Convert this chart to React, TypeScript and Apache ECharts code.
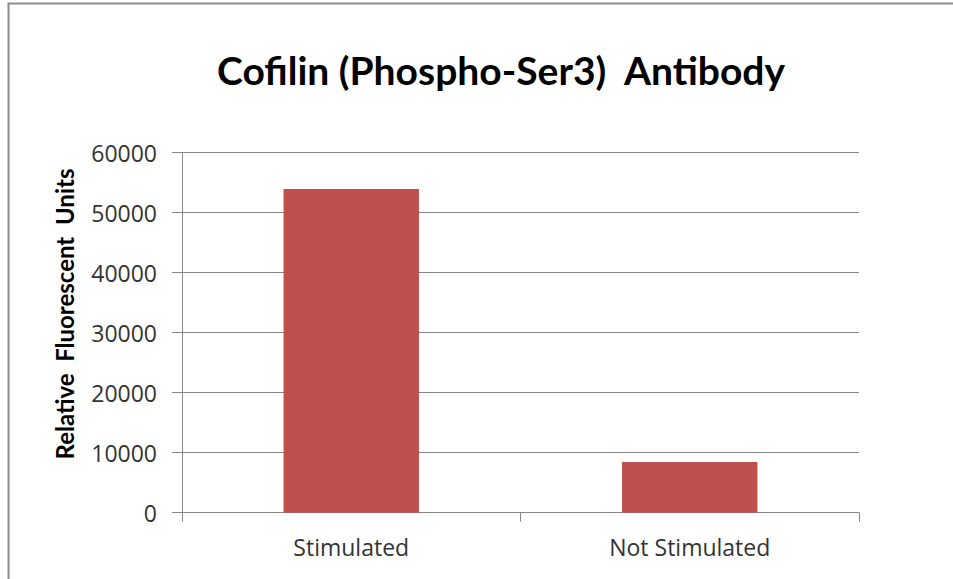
import React, { useEffect, useRef } from "react";
import * as echarts from "echarts";

const categories = ["Stimulated", "Not Stimulated"];
const values = [53950, 8450];
const titleText = "Cofilin (Phospho-Ser3)  Antibody";
const yAxisTitle = "Relative  Fluorescent  Units";

export default function App() {
  const ref = useRef<HTMLDivElement>(null);
  useEffect(() => {
    if (!ref.current) return;
    const chart = echarts.init(ref.current, null, { renderer: "svg" });
    const titleFont = "Lato, 'Open Sans', sans-serif";
    const labelFont = "'Open Sans', Lato, sans-serif";
    chart.setOption({
      animation: false,
      backgroundColor: "#ffffff",
      title: {
        text: titleText,
        left: 212,
        top: 45,
        textStyle: { fontFamily: titleFont, fontWeight: "bold", fontSize: 39, color: "#000000" },
      },
      graphic: [
        {
          type: "rect",
          shape: { x: 8.5, y: 3.5, width: 1000, height: 1000 },
          style: { fill: "none", stroke: "#8c8c8c", lineWidth: 2 },
          silent: true,
          z: -1,
        },
        {
          type: "text",
          x: 64,
          y: 314,
          rotation: Math.PI / 2,
          style: {
            text: yAxisTitle,
            fontFamily: titleFont,
            fontWeight: "bold",
            fontSize: 24,
            fill: "#000000",
            align: "center",
            verticalAlign: "middle",
          },
        },
      ],
      grid: { left: 182, right: 94, top: 152.7, bottom: 66.3, containLabel: false },
      xAxis: {
        type: "category",
        data: categories,
        axisLine: { lineStyle: { color: "#868686", width: 1 } },
        axisTick: { show: true, length: 9, lineStyle: { color: "#868686" } },
        axisLabel: { fontFamily: labelFont, fontSize: 23, color: "#333333", margin: 23 },
      },
      yAxis: {
        type: "value",
        min: 0,
        max: 60000,
        interval: 10000,
        axisLine: { show: true, lineStyle: { color: "#868686", width: 1 } },
        axisTick: { show: true, length: 10, lineStyle: { color: "#868686" } },
        axisLabel: {
          fontFamily: labelFont,
          fontSize: 23,
          color: "#333333",
          margin: 25,
          formatter: (v: number) => String(v),
        },
        splitLine: { show: true, lineStyle: { color: "#868686", width: 1 } },
      },
      series: [
        {
          type: "bar",
          data: values,
          barWidth: "40%",
          itemStyle: { color: "#C0504D" },
        },
      ],
    });
    return () => chart.dispose();
  }, []);
  return (
    <div
      ref={ref}
      style={{ position: "fixed", left: 0, top: 0, width: 953, height: 579 }}
    />
  );
}
